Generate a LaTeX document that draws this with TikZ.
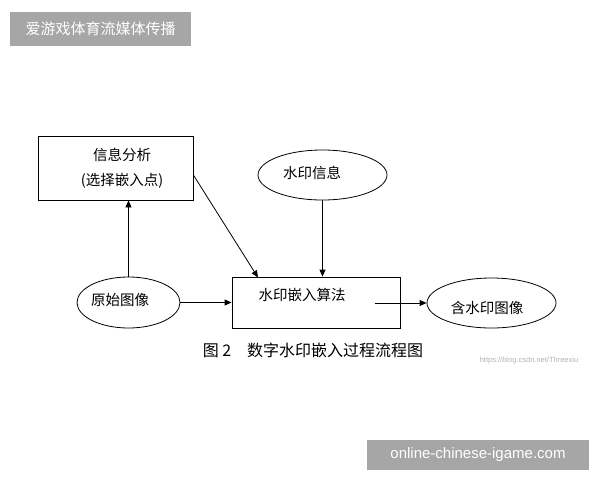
\documentclass[tikz,border=0pt]{standalone}
\usepackage{fontspec}
\newfontfamily\cjk{Noto Sans CJK SC}
\setmainfont{Liberation Sans}
\usetikzlibrary{shapes.geometric,arrows.meta}
\begin{document}
\begin{tikzpicture}[x=1pt,y=-1pt,
  box/.style={draw,line width=0.8pt,inner sep=0pt},
  ell/.style={draw,ellipse,line width=0.8pt,inner sep=0pt},
  arr/.style={-{Triangle[length=7pt,width=6pt]},line width=0.8pt},
  lab/.style={font=\cjk\fontsize{14.5}{16}\selectfont},
  banner/.style={fill=black!35,text=white,inner sep=0pt,font=\fontsize{15}{17}\selectfont}]
\useasboundingbox (0,0) rectangle (600,480);
\node[banner,minimum width=181pt,minimum height=34pt] (b1) at (100.5,29) {\cjk 爱游戏体育流媒体传播};
\node[banner,minimum width=222pt,minimum height=30pt] (b2) at (478,455) {online-chinese-igame.com};
\node[box,minimum width=155pt,minimum height=64pt] (info) at (115.5,168) {};
\node[lab] (t1) at (122,155) {信息分析};
\node[lab] (t2) at (122,181) {(选择嵌入点)};
\node[ell,minimum width=129pt,minimum height=50pt] (wm) at (322.5,175) {};
\node[lab] (t4) at (312,173) {水印信息};
\node[box,minimum width=168pt,minimum height=51pt] (alg) at (316,302.5) {};
\node[lab] (t3) at (302,295) {水印嵌入算法};
\node[ell,minimum width=103pt,minimum height=51pt] (orig) at (128.5,302.5) {};
\node[lab] (t5) at (120,300) {原始图像};
\node[ell,minimum width=129pt,minimum height=50pt] (out) at (491.5,303) {};
\node[lab] (t6) at (487,308) {含水印图像};
\coordinate (outstart) at (375,303);
\draw[arr] (orig.north) -- (info.south -| orig.north);
\draw[arr] (orig.east) -- (alg.west);
\draw[arr] (info.east |- 0,175) -- (258,277.5);
\draw[arr] (wm.south) -- (wm.south |- alg.north);
\draw[arr] (outstart) -- (out.west);
\node[font=\cjk\fontsize{16}{18}\selectfont] (cap) at (313,350) {图 2\quad 数字水印嵌入过程流程图};
\node[text=black!30,font=\fontsize{7.5}{8}\selectfont] (url) at (529,361) {https://blog.csdn.net/Threexiu};
\end{tikzpicture}
\end{document}
